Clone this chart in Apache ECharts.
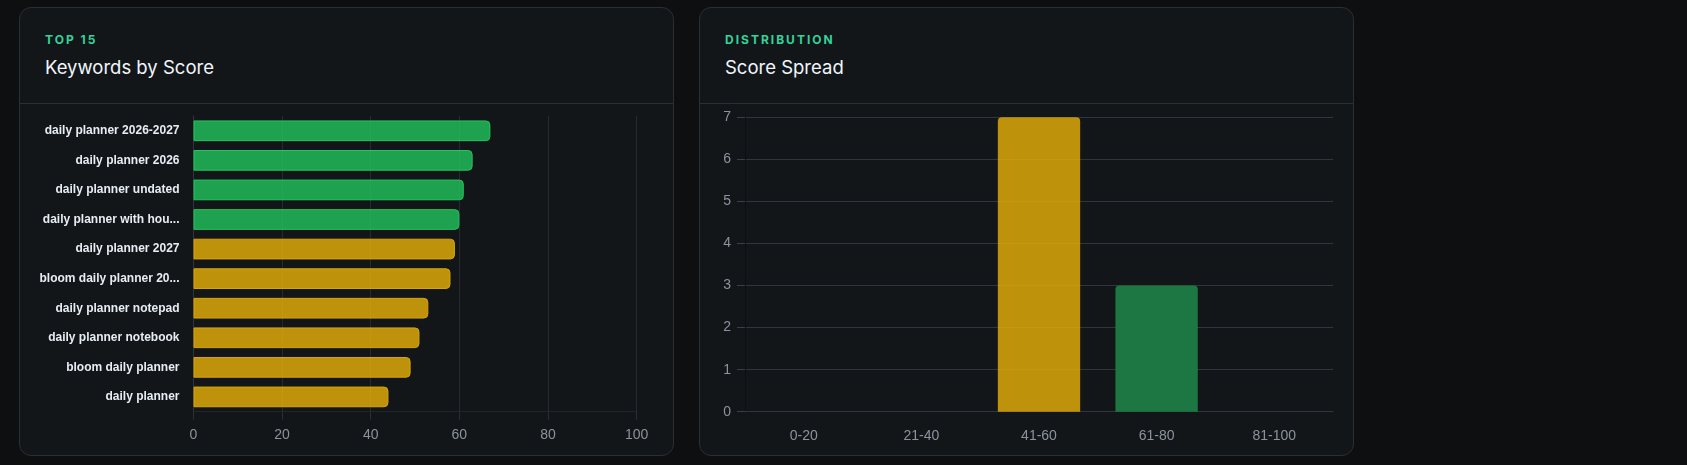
<!DOCTYPE html>
<html>
<head>
<meta charset="utf-8">
<script src="https://cdn.jsdelivr.net/npm/echarts@6/dist/echarts.min.js"></script>
<style>
  html, body { margin: 0; padding: 0; background: #0d0f11; width: 1687px; height: 465px; overflow: hidden; }
  .card { position: absolute; top: 7px; width: 655px; height: 449px; box-sizing: border-box;
          background: #131619; border: 1px solid #2a2f36; border-radius: 12px; }
  .divider { position: absolute; top: 103px; height: 1px; background: #2a2f36; }
  .eyebrow { position: absolute; font-family: Inter, "Noto Sans", sans-serif; font-size: 12px; line-height: 12px;
             font-weight: 700; letter-spacing: 2px; color: #34d399; white-space: nowrap; }
  .title { position: absolute; font-family: Inter, "Noto Sans", sans-serif; font-size: 18.5px; line-height: 18px;
           font-weight: 400; color: #f0f6fc; white-space: nowrap; }
  .chart { position: absolute; top: 105px; width: 653px; height: 350px; }
</style>
</head>
<body>
<div class="card" style="left:19px"></div>
<div class="card" style="left:699px"></div>
<div class="divider" style="left:20px;width:653px"></div>
<div class="divider" style="left:700px;width:653px"></div>
<div class="eyebrow" style="left:45px;top:33.5px">TOP 15</div>
<div class="title" style="left:45px;top:58px">Keywords by Score</div>
<div class="eyebrow" style="left:725px;top:33.5px">DISTRIBUTION</div>
<div class="title" style="left:725px;top:58px">Score Spread</div>
<div id="c1" class="chart" style="left:20px"></div>
<div id="c2" class="chart" style="left:700px"></div>
<script>
// ---- data ----
const keywords = [
  "daily planner 2026-2027",
  "daily planner 2026",
  "daily planner undated",
  "daily planner with hou...",
  "daily planner 2027",
  "bloom daily planner 20...",
  "daily planner notepad",
  "daily planner notebook",
  "bloom daily planner",
  "daily planner"
];
const scores = [67, 63, 61, 60, 59, 58, 53, 51, 49, 44];
const scoreTicks = [0, 20, 40, 60, 80, 100];

const ranges = ["0-20", "21-40", "41-60", "61-80", "81-100"];
const counts = [0, 0, 7, 3, 0];
const countTicks = [0, 1, 2, 3, 4, 5, 6, 7];

// ---- styles ----
const GREEN = "rgba(34,197,94,0.8)", GREEN_B = "#22c55e";
const GOLD = "rgba(234,179,8,0.8)", GOLD_B = "#d9a507";
const DARKGREEN = "rgba(30,124,68,0.95)";
const AX = "#8b949e";
const LBL = "Liberation Sans, Arial, sans-serif";

const c1 = echarts.init(document.getElementById("c1"));
c1.setOption({
  animation: false,
  grid: { left: 173.5, right: 36.4, top: 11, bottom: 43.3 },
  xAxis: {
    type: "value", min: scoreTicks[0], max: scoreTicks[scoreTicks.length - 1], interval: 20,
    axisLine: { show: true, lineStyle: { color: "#21262d" } },
    axisTick: { show: true, length: 8, lineStyle: { color: "#2a2f36" } },
    axisLabel: { color: AX, fontSize: 14, fontFamily: LBL, margin: 16 },
    splitLine: { show: true, lineStyle: { color: "#262b31" } }
  },
  yAxis: {
    type: "category", data: keywords, inverse: true,
    axisLine: { show: true, lineStyle: { color: "#30363d" } },
    axisTick: { show: false },
    axisLabel: { color: "#e6edf3", fontSize: 12, fontWeight: "bold", fontFamily: LBL, margin: 14 }
  },
  series: [{
    type: "bar", barWidth: "70%",
    data: scores.map(v => ({
      value: v,
      itemStyle: {
        color: v >= 60 ? GREEN : GOLD,
        borderColor: v >= 60 ? GREEN_B : GOLD_B,
        borderWidth: 1,
        borderRadius: [0, 4, 4, 0]
      }
    }))
  }]
});

const c2 = echarts.init(document.getElementById("c2"));
c2.setOption({
  animation: false,
  grid: { left: 45, right: 20, top: 12.3, bottom: 43.3 },
  xAxis: {
    type: "category", data: ranges,
    axisLine: { show: true, lineStyle: { color: "#30363d" } },
    axisTick: { show: false },
    axisLabel: { color: AX, fontSize: 14, fontFamily: LBL, margin: 17 }
  },
  yAxis: {
    type: "value", min: countTicks[0], max: countTicks[countTicks.length - 1], interval: 1,
    axisLine: { show: true, lineStyle: { color: "#0d1013" } },
    axisTick: { show: true, length: 8, lineStyle: { color: "#3a4048" } },
    axisLabel: { color: AX, fontSize: 14, fontFamily: LBL, margin: 14 },
    splitLine: { show: true, lineStyle: { color: "#30363d" } }
  },
  series: [{
    type: "bar", barWidth: "70%",
    data: counts.map((v, i) => ({
      value: v,
      itemStyle: {
        color: i === 2 ? GOLD : (i === 3 ? DARKGREEN : GREEN),
        borderRadius: [4, 4, 0, 0]
      }
    }))
  }]
});
</script>
</body>
</html>
